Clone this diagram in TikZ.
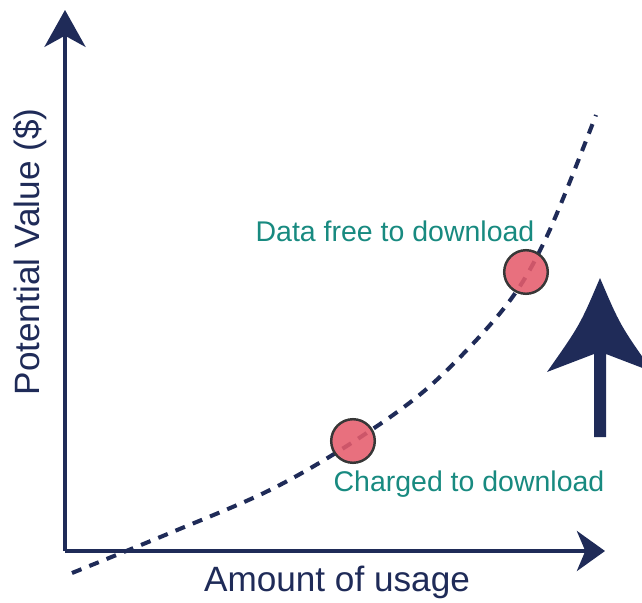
\documentclass[tikz,border=0pt]{standalone}
\usepackage{fontspec}
\setmainfont{Liberation Sans}
\usetikzlibrary{arrows.meta}
\definecolor{navy}{RGB}{31,43,88}
\definecolor{teal}{RGB}{24,138,128}
\definecolor{dotred}{RGB}{229,92,108}
\definecolor{rim}{RGB}{55,55,55}
\begin{document}
\begin{tikzpicture}[x=0.01cm,y=-0.01cm,
		axis/.style={navy,line width=1pt},
		curve/.style={navy,line width=1.15pt,dash pattern=on 2.9pt off 2.4pt},
		spot/.style={circle,draw=rim,line width=0.7pt,fill=dotred,fill opacity=0.88,minimum size=12.4pt,inner sep=0pt},
		axislabel/.style={navy,font=\fontsize{10}{12}\selectfont},
		spotlabel/.style={teal,font=\fontsize{8.1}{10}\selectfont}]
			\useasboundingbox (0,0) rectangle (642,603);
			\coordinate (origin) at (65,551);
			\coordinate (ytop) at (65,10);
			\coordinate (xend) at (605,551);

			% Axes
			\draw[axis,-{Stealth[length=10.5pt,width=11.7pt,inset=3.2pt]}] (origin) -- (ytop);
			\draw[axis,-{Stealth[length=8pt,width=11.4pt,inset=2.4pt]}] (origin) -- (xend);
			\node[axislabel,rotate=90] (ylabel) at (30,252) {Potential Value (\$)};
			\node[axislabel] (xlabel) at (337,582) {Amount of usage};

			% Value curve
			\draw[curve] plot[smooth,tension=0.55] coordinates {(72,573) (170,533) (270,490) (353,442) (430,386) (505,307) (547,236) (596,115)};

			% Download points
			\node[spot] (charged) at (353,441) {};
			\node[spot] (free) at (526,272) {};
			\node[spotlabel] (chargedlabel) at (469,484) {Charged to download};
			\node[spotlabel] (freelabel) at (395,231) {Data free to download};

			% Rising arrow
			\fill[navy] (594,437) -- (594,354) -- (547,372) .. controls (580,325) .. (600,278)
				.. controls (620,325) .. (653,372) -- (606,354) -- (606,437) -- cycle;
		\end{tikzpicture}
\end{document}
